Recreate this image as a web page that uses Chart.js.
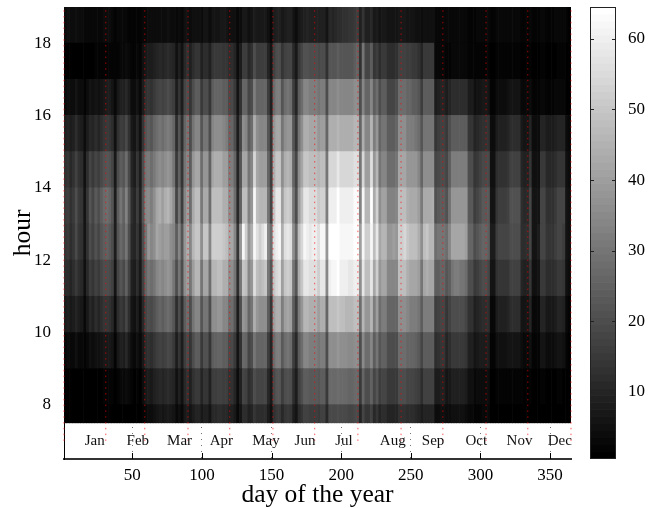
<!DOCTYPE html>
<html>
<head>
<meta charset="utf-8">
<title>hour by day of the year</title>
<script src="https://cdn.jsdelivr.net/npm/chart.js@4/dist/chart.umd.min.js"></script>
<style>
  html, body { margin: 0; background: #fff; overflow: hidden; }
  canvas { position: absolute; top: 0; }
  #heatmap { left: 0; }
  #colorbar { left: 580px; }
</style>
</head>
<body>
<canvas id="heatmap" width="580" height="508"></canvas>
<canvas id="colorbar" width="72" height="508"></canvas>
<script>
// values, one entry per two days (day 1-3, 3-5, ... 363-365)
const hour07 = [
  1,1,1,1,1,1,1,1,1,1,1,1,1,1,1,1,1,1,1,1,1,1,1,1,1,1,1,1,2,3,4,4,5,6,7,6,7,8,7,6,3,5,3,7,8,6,
  8,10,10,7,9,9,6,11,11,12,12,11,11,9,9,7,3,6,12,12,9,10,14,12,12,12,12,8,5,13,15,15,11,14,15,14,8,6,12,14,17,17,16,16,16,
  15,17,17,11,19,19,19,20,19,19,19,18,18,19,19,10,18,14,14,17,11,14,10,12,12,10,10,10,10,13,13,13,12,12,12,11,10,8,10,10,10,10,4,4,5,5,
  4,4,5,5,5,5,5,4,3,3,2,2,2,3,3,3,1,1,1,1,1,1,1,1,1,1,1,1,1,1,1,1,1,1,1,1,1,1,1,1,1,1,1,1,1];
const hour08 = [
  1,1,1,1,1,1,1,1,1,1,1,1,1,1,2,2,2,2,1,2,3,3,4,3,2,1,2,1,4,7,8,7,9,10,11,10,11,12,11,10,5,9,5,11,13,9,
  13,15,15,10,14,14,9,16,16,17,17,16,16,13,13,10,4,9,18,17,12,14,20,18,18,18,18,11,7,19,22,22,16,20,21,20,12,8,17,20,24,24,23,23,23,
  22,24,24,15,27,27,27,28,27,27,27,26,26,27,27,15,26,20,20,25,18,22,16,18,18,15,15,15,15,20,20,20,18,18,18,17,16,12,17,17,17,17,8,8,9,9,
  6,7,9,9,9,9,9,8,5,5,3,4,4,4,4,4,1,1,2,2,2,2,2,2,2,2,2,2,1,1,2,1,1,1,2,2,1,1,1,1,2,2,1,1,1];
const hour09 = [
  3,4,3,3,5,3,3,2,3,5,4,5,5,6,7,7,7,6,2,7,9,8,11,7,4,3,5,3,7,12,13,12,14,16,17,16,17,19,18,15,8,14,8,16,19,14,
  20,24,24,15,21,21,14,24,25,26,26,24,24,19,19,15,6,13,27,26,18,20,30,26,26,26,26,16,10,28,32,32,23,28,30,28,16,11,24,28,34,34,32,32,32,
  30,32,32,20,36,36,36,38,36,36,36,35,35,36,36,20,35,28,28,34,24,30,22,25,25,20,20,20,20,28,28,28,26,26,26,25,23,18,24,24,24,24,12,13,14,14,
  10,12,15,15,15,15,15,14,9,9,6,7,8,8,8,8,2,2,5,5,5,5,6,6,6,6,6,4,3,3,5,2,2,2,6,6,4,4,4,5,6,6,5,2,1];
const hour10 = [
  8,9,7,8,10,8,7,3,7,11,9,12,10,12,14,14,13,11,4,12,15,13,18,12,6,5,8,4,11,18,20,19,21,24,26,24,26,28,26,22,12,20,12,24,28,20,
  30,34,34,22,30,30,20,36,36,38,38,34,34,28,28,22,8,20,38,36,26,30,44,38,36,36,36,24,14,40,44,44,32,40,42,40,24,16,32,38,46,46,44,44,44,
  40,44,44,26,48,48,48,50,48,48,46,46,46,48,48,28,46,38,38,46,32,40,28,32,32,26,26,26,26,36,36,36,34,32,32,32,30,24,32,32,32,32,16,17,18,18,
  14,17,20,20,20,20,20,18,13,13,9,10,11,12,12,12,3,3,8,9,9,9,10,12,12,12,12,6,6,6,10,3,3,3,10,10,7,7,7,8,10,10,9,3,2];
const hour11 = [
  12,12,10,12,15,12,11,5,11,16,14,17,15,18,20,20,19,17,6,18,22,19,25,17,9,8,12,7,17,26,30,28,30,34,36,34,36,38,36,30,20,30,20,36,40,30,
  40,46,46,30,42,42,28,46,46,48,48,44,44,36,36,30,12,30,50,48,34,38,56,48,46,48,50,30,22,50,54,56,40,50,52,50,30,22,44,50,58,58,56,56,56,
  52,58,58,34,60,62,62,64,60,60,60,58,58,60,60,36,58,48,48,58,42,52,38,42,42,34,34,34,34,48,48,48,44,42,42,42,40,30,42,44,42,42,24,24,26,26,
  22,24,30,32,32,30,30,28,20,20,15,16,18,20,20,18,6,6,13,14,14,14,14,17,17,17,17,10,9,9,14,5,5,6,15,15,12,12,12,13,15,15,14,5,4];
const hour12 = [
  14,15,12,14,19,14,13,6,13,20,17,21,18,22,24,25,23,20,8,22,27,24,30,20,11,10,14,8,20,30,38,34,36,42,40,38,40,40,36,34,24,34,22,38,44,34,
  46,50,50,36,50,50,34,52,52,52,52,50,48,42,42,34,14,38,62,52,38,44,62,56,52,56,60,34,28,56,60,62,44,56,58,56,36,26,48,54,62,60,58,60,60,
  56,62,62,38,64,64,64,64,62,62,62,62,62,64,64,40,62,52,52,62,48,58,42,46,46,38,38,40,38,52,52,54,50,48,48,48,44,36,48,50,46,46,28,30,30,30,
  28,34,42,42,42,42,42,40,26,26,20,22,24,26,26,24,8,8,16,18,18,18,18,20,20,20,20,12,12,12,18,6,6,8,18,18,14,14,14,16,18,18,16,6,5];
const hour13 = [
  15,16,13,15,20,15,14,6,14,22,18,23,20,24,27,28,26,22,8,24,30,25,33,22,12,10,16,9,22,34,35,32,36,42,44,40,44,46,42,36,18,30,16,34,40,28,
  43,48,48,31,43,43,28,48,48,48,48,44,44,36,36,28,11,25,48,48,33,38,62,48,46,46,46,30,18,50,58,58,40,50,52,50,30,20,40,48,58,58,55,55,55,
  51,53,53,32,60,60,60,64,60,60,60,60,60,63,63,33,62,46,46,64,43,53,36,41,41,33,33,33,34,48,48,48,44,43,43,43,40,31,43,43,43,44,21,23,24,24,
  21,29,38,38,38,38,38,38,23,23,16,18,20,23,23,23,6,6,14,16,16,16,17,21,21,21,21,12,11,11,18,6,6,6,18,18,13,13,13,15,18,18,18,6,5];
const hour14 = [
  13,14,11,13,17,13,12,5,12,18,15,18,16,19,21,22,21,18,7,20,24,22,28,19,10,8,14,8,20,30,31,28,31,34,36,34,36,38,36,30,15,25,14,30,34,24,
  38,42,42,28,38,38,25,42,44,44,44,40,40,32,32,26,10,22,42,42,30,34,54,42,40,40,40,26,16,44,50,50,36,44,46,44,26,18,36,42,50,50,48,48,48,
  46,48,48,30,54,54,54,58,54,54,54,54,54,56,56,30,54,40,40,56,38,46,30,34,34,28,28,28,30,42,42,42,38,38,38,38,34,26,36,36,36,36,18,19,20,20,
  18,24,32,32,32,32,32,32,20,20,14,15,17,19,19,19,5,5,12,13,13,13,14,17,17,17,17,10,9,9,14,5,5,5,15,15,11,11,11,12,14,14,14,5,4];
const hour15 = [
  9,10,8,9,12,9,8,4,8,11,10,12,10,12,14,15,14,12,5,13,16,15,19,13,7,6,10,5,14,22,24,22,26,28,30,28,30,32,30,26,12,22,12,26,30,20,
  30,34,34,22,30,30,20,34,36,36,36,34,32,26,26,20,8,18,36,34,24,28,44,36,34,34,34,22,13,38,42,42,30,36,38,38,22,14,30,36,44,44,42,42,42,
  38,40,40,26,44,44,44,46,44,44,44,44,44,46,46,26,44,34,34,46,32,38,26,30,30,24,24,24,26,36,36,36,32,32,32,30,28,22,30,30,30,30,14,16,17,17,
  15,20,24,24,24,24,24,24,14,14,10,11,12,13,13,13,4,4,8,9,9,9,10,12,12,12,12,7,6,6,10,4,4,4,10,10,8,8,8,9,10,10,10,4,3];
const hour16 = [
  4,5,4,4,6,4,4,2,4,6,5,6,5,6,7,8,8,6,3,7,9,9,11,8,4,4,6,3,8,13,14,13,15,17,18,17,18,20,18,16,8,14,8,18,20,14,
  20,24,24,15,20,20,14,24,26,26,26,24,24,19,19,15,6,13,26,26,18,20,32,26,26,26,26,16,9,28,32,32,22,28,30,28,16,10,24,28,34,34,32,32,32,
  30,32,32,20,34,34,34,36,34,34,34,34,34,36,36,20,34,26,26,34,24,28,20,24,24,18,18,18,20,28,28,28,26,26,24,24,22,16,24,24,24,24,8,9,10,10,
  8,10,12,12,12,12,12,12,8,8,5,6,6,7,7,6,2,2,4,4,4,4,5,6,6,6,6,3,3,3,4,2,2,2,3,3,2,2,2,3,3,3,3,1,1];
const hour17 = [
  1,1,1,1,1,1,1,1,1,1,1,2,2,2,2,2,2,2,2,2,3,3,4,3,2,2,3,2,5,7,8,8,9,10,11,10,11,12,11,10,5,9,5,11,13,9,
  12,14,14,9,12,12,9,14,15,15,15,14,14,12,12,10,4,8,16,16,11,13,20,16,16,16,16,10,6,17,20,20,14,17,18,18,11,7,15,18,21,21,20,20,20,
  19,20,20,13,22,22,22,24,22,22,22,22,22,24,26,13,30,18,18,24,14,16,12,15,15,12,12,12,13,17,17,17,16,16,15,15,13,10,15,15,15,15,3,3,3,3,
  2,2,3,3,3,3,3,3,2,2,2,2,2,2,2,2,1,1,2,2,2,2,2,2,2,2,2,1,1,1,2,1,1,1,2,2,1,1,1,1,2,2,2,1,1];
const hour18 = [
  4,5,4,4,5,4,4,3,3,3,3,3,3,3,4,4,4,3,2,3,3,3,3,2,2,2,2,2,3,3,4,4,4,4,4,4,4,5,4,4,3,4,3,5,5,4,
  5,5,5,4,6,6,4,6,6,6,7,7,6,5,5,5,3,4,7,7,5,6,8,7,7,7,7,5,3,8,9,9,7,8,9,9,6,4,7,8,9,10,9,9,9,
  9,9,9,6,11,10,11,12,12,13,13,14,14,15,16,9,14,9,9,11,7,8,6,7,7,6,6,6,6,7,7,7,6,6,6,5,5,4,5,5,5,5,3,3,3,3,
  3,3,3,3,3,3,3,3,2,2,2,3,3,3,3,3,2,2,3,3,3,3,3,3,3,3,3,2,2,2,3,2,2,2,3,3,2,2,2,3,3,3,3,2,1];

const hourRows = [hour07, hour08, hour09, hour10, hour11, hour12, hour13, hour14, hour15, hour16, hour17, hour18];
const hourStarts = [7.5, 8, 9, 10, 11, 12, 13, 14, 15, 16, 17, 18];

const dayTicks = [50, 100, 150, 200, 250, 300, 350];
const hourTicks = [8, 10, 12, 14, 16, 18];
const colorTicks = [10, 20, 30, 40, 50, 60];
const monthEnds = [1, 31, 59, 90, 120, 151, 181, 212, 243, 273, 304, 334, 365];
const monthNames = ["Jan", "Feb", "Mar", "Apr", "May", "Jun", "Jul", "Aug", "Sep", "Oct", "Nov", "Dec"];
const monthLabelDays = [23, 54, 84, 114, 146, 174, 202, 237, 266, 297, 328, 357];

const FONT = "'Liberation Serif', 'Times New Roman', serif";
Chart.defaults.font.family = FONT;
Chart.defaults.color = "#000";

// same 64 step gray ramp as the colorbar
const gray = (v) => {
  const g = Math.round(((v - 1) / 63) * 255);
  return `rgb(${g},${g},${g})`;
};

const heatDatasets = hourRows.map((row, r) => ({
  data: row.map((v, i) => ({ x: 2 + i * 2, y: [hourStarts[r], r === 0 ? 8 : hourStarts[r] + 1] })),
  backgroundColor: row.map(gray),
  borderWidth: 0,
  barPercentage: 1,
  categoryPercentage: 1,
  grouped: false,
}));

const monthLines = monthEnds.map((d) => ({
  type: "line",
  data: [{ x: d, y: 7 }, { x: d, y: 19 }],
  borderColor: "rgba(255,0,0,0.65)",
  borderWidth: 1,
  borderDash: [1.5, 4.3],
  pointRadius: 0,
  clip: false,
  order: -1,
}));

const monthLabelPlugin = {
  id: "monthLabels",
  afterDatasetsDraw(chart) {
    const { ctx, scales } = chart;
    ctx.save();
    ctx.fillStyle = "#111";
    ctx.font = `15px ${FONT}`;
    ctx.textAlign = "center";
    ctx.textBaseline = "middle";
    monthNames.forEach((name, i) => {
      ctx.fillText(name, scales.x.getPixelForValue(monthLabelDays[i]), scales.y.getPixelForValue(7));
    });
    // small inside ticks along the bottom
    ctx.strokeStyle = "#000";
    ctx.lineWidth = 1;
    dayTicks.forEach((d) => {
      const px = Math.round(scales.x.getPixelForValue(d)) + 0.5;
      ctx.beginPath();
      ctx.moveTo(px, scales.y.bottom);
      ctx.lineTo(px, scales.y.bottom - 6);
      ctx.stroke();
    });
    ctx.restore();
  },
};

new Chart(document.getElementById("heatmap"), {
  type: "bar",
  data: { datasets: [...monthLines, ...heatDatasets] },
  plugins: [monthLabelPlugin],
  options: {
    responsive: false,
    animation: false,
    layout: { padding: { top: 7, right: 9, left: 0, bottom: 0 } },
    plugins: { legend: { display: false }, tooltip: { enabled: false } },
    scales: {
      x: {
        type: "linear",
        min: 1,
        max: 365,
        offset: false,
        afterBuildTicks: (axis) => { axis.ticks = dayTicks.map((value) => ({ value })); },
        afterFit: (axis) => { axis.height = 49; },
        grid: { color: "rgba(0,0,0,0.55)", offset: false, drawTicks: false },
        border: { color: "#333", width: 2, dash: [1, 5] },
        ticks: { font: { size: 17 }, padding: 6, maxRotation: 0 },
        title: { display: true, text: "day of the year", font: { size: 25.5, lineHeight: 1 }, padding: 0 },
      },
      y: {
        type: "linear",
        min: 6.5,
        max: 19,
        afterBuildTicks: (axis) => { axis.ticks = hourTicks.map((value) => ({ value })); },
        // the top tick sits far from the edge, so no room is needed for its label
        afterFit: (axis) => { axis.width = 64; axis.paddingTop = 0; axis.paddingBottom = 0; },
        grid: { display: false },
        border: { color: "#000", width: 1 },
        ticks: { font: { size: 17 }, padding: 5 },
        title: { display: true, text: "hour", font: { size: 25.5 }, padding: 8 },
      },
    },
  },
});

const colorLevels = [];
for (let v = 1; v <= 64; v++) colorLevels.push(v);

const colorFramePlugin = {
  id: "colorFrame",
  afterDatasetsDraw(chart) {
    const { ctx, chartArea, scales } = chart;
    ctx.save();
    ctx.strokeStyle = "#222";
    ctx.lineWidth = 1;
    ctx.strokeRect(chartArea.left + 0.5, chartArea.top + 0.5, chartArea.width - 1, chartArea.height - 1);
    colorTicks.forEach((v) => {
      const py = Math.round(scales.y.getPixelForValue(v)) + 0.5;
      ctx.beginPath();
      ctx.moveTo(chartArea.left, py);
      ctx.lineTo(chartArea.left + 4, py);
      ctx.moveTo(chartArea.right - 4, py);
      ctx.lineTo(chartArea.right, py);
      ctx.stroke();
    });
    ctx.restore();
  },
};

new Chart(document.getElementById("colorbar"), {
  type: "bar",
  data: {
    datasets: [{
      data: colorLevels.map((v) => ({ x: [0, 1], y: v })),
      backgroundColor: colorLevels.map(gray),
      borderWidth: 0,
      barPercentage: 1,
      categoryPercentage: 1,
    }],
  },
  plugins: [colorFramePlugin],
  options: {
    indexAxis: "y",
    responsive: false,
    animation: false,
    layout: { padding: { top: 7, bottom: 49, left: 10, right: 0 } },
    plugins: { legend: { display: false }, tooltip: { enabled: false } },
    scales: {
      x: { type: "linear", min: 0, max: 1, display: false },
      y: {
        type: "linear",
        position: "right",
        min: 0.5,
        max: 64.5,
        offset: false,
        afterBuildTicks: (axis) => { axis.ticks = colorTicks.map((value) => ({ value })); },
        afterFit: (axis) => { axis.width = 36; axis.paddingTop = 0; axis.paddingBottom = 0; },
        grid: { display: false },
        border: { display: false },
        ticks: { font: { size: 17 }, padding: 4 },
      },
    },
  },
});
</script>
</body>
</html>
